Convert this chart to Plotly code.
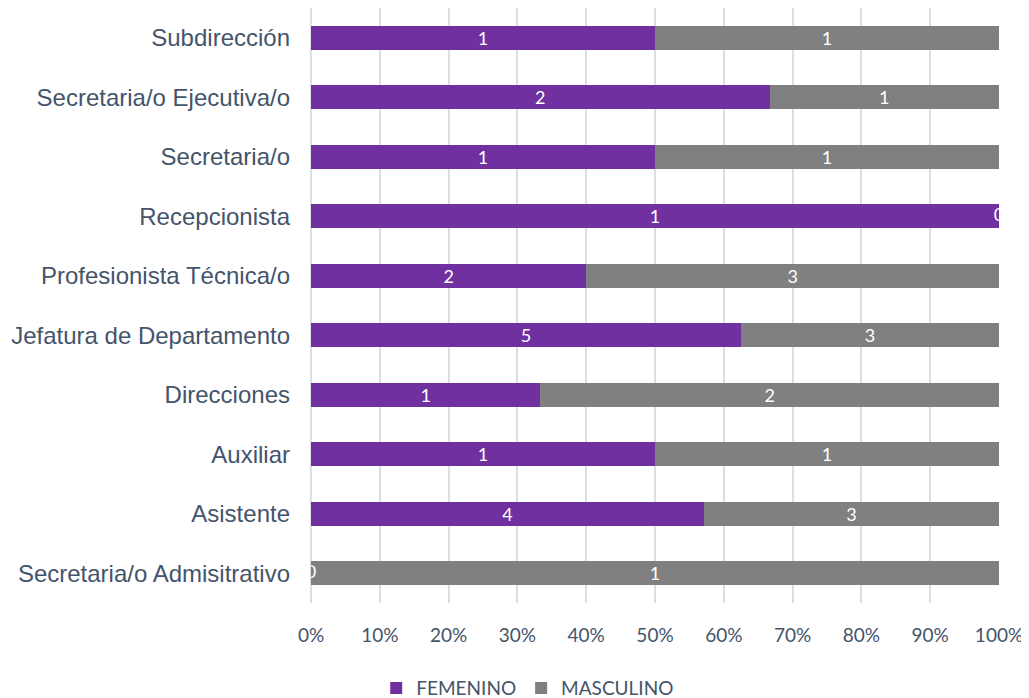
import plotly.graph_objects as go

categories = ["Secretaria/o Admisitrativo", "Asistente", "Auxiliar", "Direcciones",
              "Jefatura de Departamento", "Profesionista Técnica/o", "Recepcionista",
              "Secretaria/o", "Secretaria/o Ejecutiva/o", "Subdirección"]
femenino = [0, 4, 1, 1, 5, 2, 1, 1, 2, 1]
masculino = [1, 3, 1, 2, 3, 3, 0, 1, 1, 1]
tick_vals = [0, 10, 20, 30, 40, 50, 60, 70, 80, 90, 100]
tick_text = [f"{v}%" for v in tick_vals]

label_font = dict(color="white", size=18, family="Lato")

fig = go.Figure()
fig.add_trace(go.Bar(
    y=categories, x=femenino, name="FEMENINO", orientation="h",
    marker=dict(color="#7030A0", line=dict(width=0)),
    text=[str(v) for v in femenino], textposition="inside", insidetextanchor="middle",
    textangle=0, constraintext="none", textfont=label_font,
))
fig.add_trace(go.Bar(
    y=categories, x=masculino, name="MASCULINO", orientation="h",
    marker=dict(color="#808080", line=dict(width=0)),
    text=[str(v) for v in masculino], textposition="inside", insidetextanchor="middle",
    textangle=0, constraintext="none", textfont=label_font,
))

# labels for zero-valued segments (placed at the segment position computed from the data)
zx, zy, zt = [], [], []
for c, f, m in zip(categories, femenino, masculino):
    tot = f + m
    if f == 0:
        zx.append(0.0); zy.append(c); zt.append("0")
    if m == 0:
        zx.append(100.0 * (f + m) / tot); zy.append(c); zt.append("0")
fig.add_trace(go.Scatter(x=zx, y=zy, text=zt, mode="text", textfont=label_font,
                         showlegend=False, hoverinfo="skip", cliponaxis=True))

fig.update_layout(
    barmode="stack", barnorm="percent", bargap=0.6,
    width=1021, height=690,
    margin=dict(l=303, r=30, t=0, b=95, autoexpand=False),
    plot_bgcolor="white", paper_bgcolor="white",
    font=dict(family="Liberation Sans", color="#44546A"),
    legend=dict(orientation="h", x=0.315, xanchor="center", y=-0.143, yanchor="middle",
                font=dict(family="Lato", size=19, color="#44546A"),
                traceorder="normal", itemwidth=30, tracegroupgap=0),
    xaxis=dict(range=[0, 100], tickvals=tick_vals, ticktext=tick_text,
               showgrid=True, gridcolor="#D9DEE8", gridwidth=1.5,
               zeroline=True, zerolinecolor="#D9DEE8", zerolinewidth=1.5,
               tickfont=dict(family="Lato", size=19, color="#44546A"),
               ticks="", ticklabelstandoff=19, fixedrange=True),
    yaxis=dict(categoryorder="array", categoryarray=categories,
               tickfont=dict(family="Liberation Sans", size=24, color="#44546A"),
               ticks="", ticklabelstandoff=20, showgrid=False, fixedrange=True),
)

fig.write_html("out.html")
